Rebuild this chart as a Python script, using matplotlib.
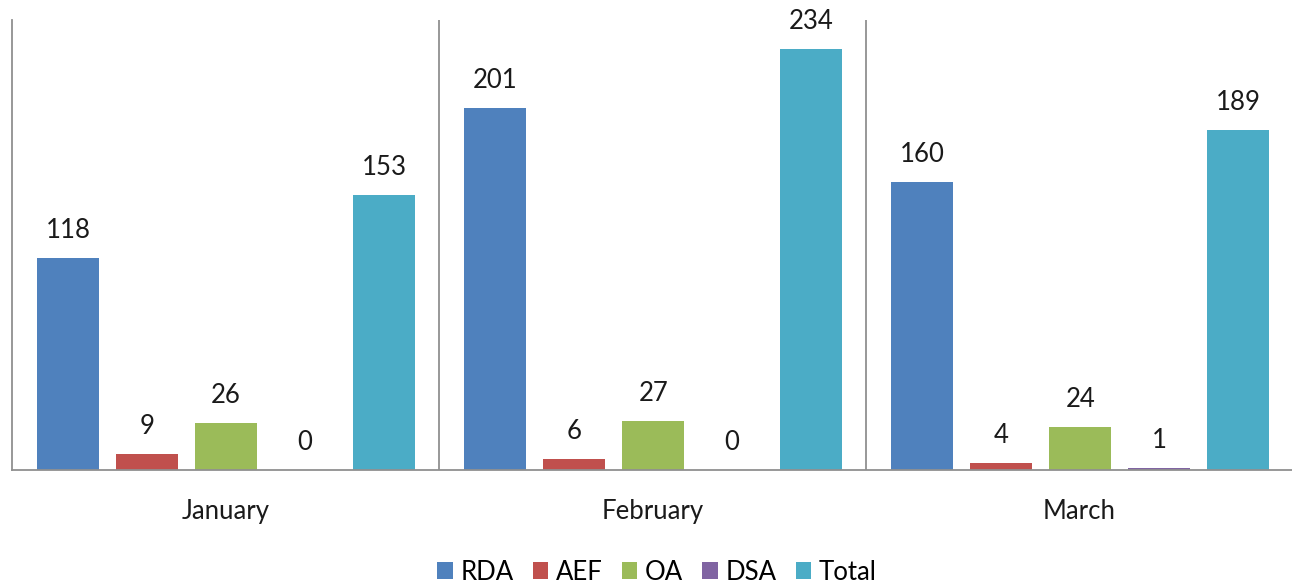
import matplotlib
matplotlib.use("Agg")
import matplotlib.pyplot as plt
from matplotlib.patches import Patch
import numpy as np

plt.rcParams['font.family'] = ['Lato', 'DejaVu Sans']

months = ["January", "February", "March"]
series = ["RDA", "AEF", "OA", "DSA", "Total"]
rda = [118, 201, 160]
aef = [9, 6, 4]
oa = [26, 27, 24]
dsa = [0, 0, 1]
total = [153, 234, 189]
colors = ["#4F81BD", "#C0504D", "#9BBB59", "#8064A2", "#4BACC6"]

values = [rda, aef, oa, dsa, total]

fig = plt.figure(figsize=(12.92, 5.88), dpi=100)
ax = fig.add_axes([12/1292, 1-470/588, 1281/1292, 450/588])

step = 0.185
width = 0.146
offset0 = 0.0585
x = np.arange(len(months))
for i, (name, vals, c) in enumerate(zip(series, values, colors)):
    pos = x + offset0 + i*step + width/2
    ax.bar(pos, vals, width=width, color=c, label=name, edgecolor='none')
    for p, v in zip(pos, vals):
        ax.annotate(str(v), (p, v), xytext=(0, 14.4), textcoords='offset points',
                    ha='center', va='baseline', fontsize=18.5, color='#1a1a1a')

ax.set_xlim(0, 3)
ax.set_ylim(0, 250)
ax.set_yticks([])
ax.set_xticks(x + 0.5)
ax.set_xticklabels(months, fontsize=18.5, color='#1a1a1a')
ax.tick_params(axis='x', length=0, pad=21)
for s in ['top', 'right']:
    ax.spines[s].set_visible(False)
for s in ['left', 'bottom']:
    ax.spines[s].set_color('#909090')
    ax.spines[s].set_linewidth(1.3)
for b in [1, 2]:
    ax.axvline(b, color='#909090', linewidth=1.3)

handles = [Patch(facecolor=c, edgecolor='none') for c in colors]
fig.legend(handles, series, loc='center', bbox_to_anchor=(657/1292, 1-572/588),
           ncol=5, frameon=False, fontsize=18.5, handlelength=0.6, handleheight=0.6,
           handletextpad=0.3, columnspacing=0.75, borderaxespad=0)

fig.savefig("out.png", dpi=100)
